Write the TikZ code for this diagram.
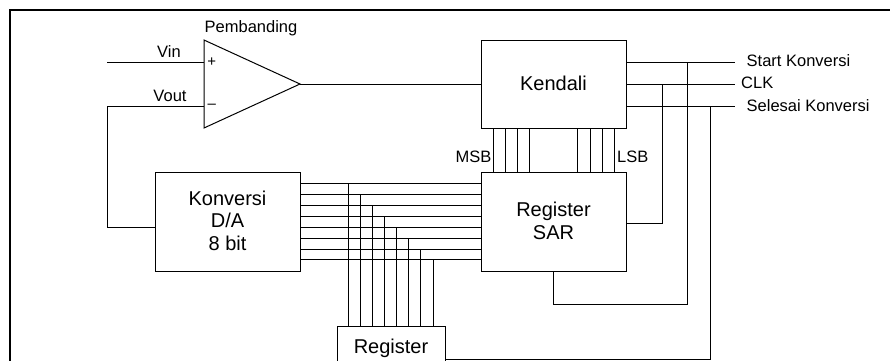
\documentclass[tikz,border=0pt]{standalone}
\usepackage{fontspec}
\setmainfont{Liberation Sans}
\begin{document}
\begin{tikzpicture}[x=1pt,y=-1pt,
  box/.style={draw, line width=1pt, inner sep=0pt},
  big/.style={font=\fontsize{20}{23}\selectfont, inner sep=0pt},
  small/.style={font=\fontsize{16.5}{19}\selectfont, inner sep=0pt},
  sign/.style={font=\fontsize{15}{17}\selectfont, inner sep=0pt},
  wire/.style={line width=1pt}]
\useasboundingbox (0,0) rectangle (890,360);
\clip (0,0) rectangle (890,360);
\fill[white] (0,0) rectangle (890,360);
\draw[line width=2.2pt] (10,10) rectangle (920,400);

% blocks
\node[box, minimum width=145pt, minimum height=88pt] (kendali) at (553.5,84) {};
\node[box, minimum width=145pt, minimum height=99pt] (sar) at (553.5,221.5) {};
\node[box, minimum width=145pt, minimum height=99pt] (dac) at (227.5,221.5) {};
\node[box, minimum width=108pt, minimum height=60pt] (reg) at (391,356) {};

% block texts
\node[big, anchor=base] (tkendali) at (553.5,90) {Kendali};
\node[big, anchor=base] (tsar1) at (553.5,216) {Register};
\node[big, anchor=base] (tsar2) at (553.5,239) {SAR};
\node[big, anchor=base] (tdac1) at (227.5,205) {Konversi};
\node[big, anchor=base] (tdac2) at (227.5,227.5) {D/A};
\node[big, anchor=base] (tdac3) at (227.5,250) {8 bit};
\node[big, anchor=base] (treg) at (391,353) {Register};

% comparator
\coordinate (cTop) at (204,40);
\coordinate (cBot) at (204,128);
\coordinate (cOut) at (300,84);
\coordinate (cPlus) at (204,62);
\coordinate (cMinus) at (204,106);
\draw[wire] (cTop) -- (cOut) -- (cBot) -- cycle;
\node[sign] (plus) at (211.7,62) {+};
\node[sign] (minus) at (211.7,106) {–};
\node[small, anchor=base] (tpemb) at (251,32) {Pembanding};
\node[small, anchor=base] (tvin) at (169,57) {Vin};
\node[small, anchor=base] (tvout) at (170,101) {Vout};

% comparator wiring
\coordinate (vinEnd) at (107,62);
\coordinate (dacIn) at (155,227);
\draw[wire] (vinEnd) -- (cPlus);
\draw[wire] (cMinus) -- (107,106) -- (107,227) -- (dacIn);
\draw[wire] (cOut) -- (kendali.west);

% control outputs
\coordinate (startEnd) at (735,62);
\coordinate (clkEnd) at (735,84);
\coordinate (selEnd) at (735,106);
\draw[wire] (kendali.east |- cPlus) -- (startEnd);
\draw[wire] (kendali.east) -- (clkEnd);
\draw[wire] (kendali.east |- cMinus) -- (selEnd);
\node[small, anchor=base west] (tstart) at (746.5,66.7) {Start Konversi};
\node[small, anchor=base west] (tclk) at (741,88.7) {CLK};
\node[small, anchor=base west] (tsel) at (746.5,111) {Selesai Konversi};

\coordinate (sarClk) at (626,223);
\coordinate (regOut) at (445,359);
\draw[wire] (687,62) -- (687,304) -| (sar.south);
\draw[wire] (662,84) -- (662,223) -- (sarClk);
\draw[wire] (710,106) -- (710,359) -- (regOut);

% Kendali - SAR bus
\foreach \x in {493.3,505.3,517.3,529.3,577.7,590,602.3,614}
  \draw[wire] (\x,128) -- (\x,172);
\node[small, anchor=base east] (tmsb) at (491.5,162.7) {MSB};
\node[small, anchor=base west] (tlsb) at (617,162.7) {LSB};

% DAC - SAR bus and register taps
\foreach \i in {0,...,7} {
  \pgfmathsetmacro{\yy}{183.3+10.95*\i}
  \pgfmathsetmacro{\xx}{348.3+12.1*\i}
  \draw[wire] (300,\yy) -- (481,\yy);
  \draw[wire] (\xx,\yy) -- (\xx,326);
}
\end{tikzpicture}
\end{document}
